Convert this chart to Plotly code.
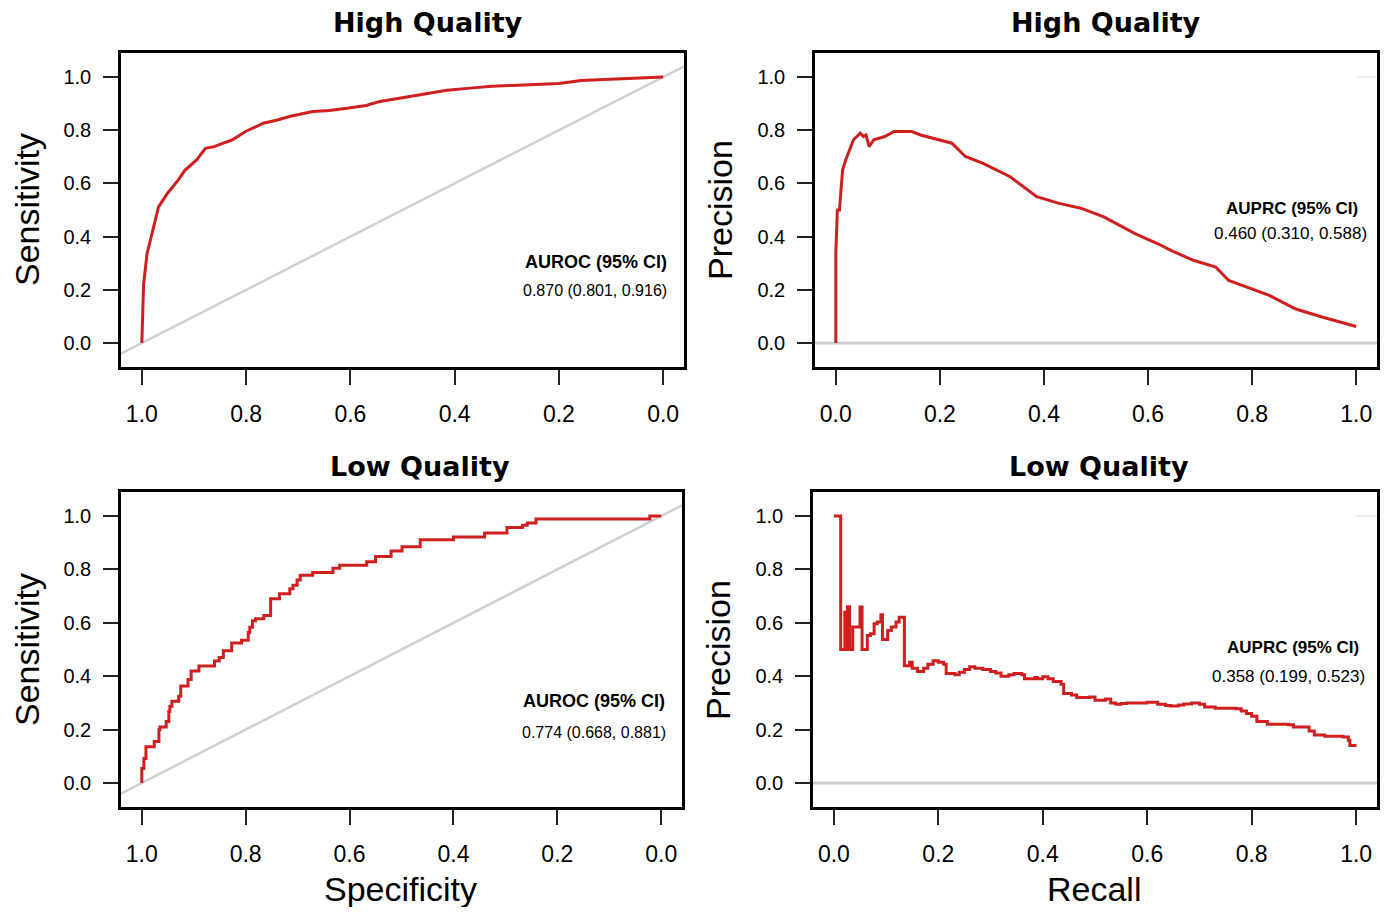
import plotly.graph_objects as go

# ---------------- data ----------------
# High quality ROC (specificity, sensitivity)
spec_hq = [1.0, 0.9966, 0.99, 0.981, 0.968, 0.951, 0.930, 0.917, 0.895, 0.878, 0.861, 0.844,
           0.827, 0.801, 0.767, 0.740, 0.715, 0.672, 0.640, 0.603, 0.570, 0.543, 0.483, 0.440,
           0.415, 0.370, 0.329, 0.290, 0.243, 0.200, 0.157, 0.110, 0.071, 0.0]
sens_hq = [0.0, 0.223, 0.336, 0.411, 0.512, 0.562, 0.613, 0.650, 0.688, 0.732, 0.738, 0.751,
           0.763, 0.795, 0.826, 0.838, 0.852, 0.870, 0.874, 0.883, 0.893, 0.908, 0.927, 0.940,
           0.950, 0.958, 0.965, 0.968, 0.971, 0.975, 0.987, 0.991, 0.996, 1.0]

# High quality PR (recall, precision)
recall_hq = [0.0, 0.0, 0.003, 0.007, 0.009, 0.013, 0.019, 0.026, 0.034, 0.047, 0.053, 0.058,
             0.064, 0.073, 0.094, 0.112, 0.146, 0.163, 0.197, 0.223, 0.249, 0.283, 0.335, 0.386,
             0.429, 0.472, 0.515, 0.575, 0.618, 0.644, 0.687, 0.730, 0.755, 0.807, 0.833, 0.884,
             0.936, 1.0]
precision_hq = [0.0, 0.336, 0.50, 0.50, 0.55, 0.65, 0.688, 0.726, 0.764, 0.789, 0.776, 0.782,
                0.738, 0.764, 0.776, 0.795, 0.795, 0.782, 0.764, 0.751, 0.701, 0.675, 0.625, 0.550,
                0.525, 0.506, 0.474, 0.411, 0.374, 0.348, 0.311, 0.286, 0.235, 0.197, 0.179, 0.128,
                0.097, 0.062]

# Low quality ROC (step curve)
spec_lq = [1.0, 0.996, 0.992, 0.976, 0.967, 0.965, 0.953, 0.948, 0.946, 0.942, 0.929, 0.925,
           0.911, 0.905, 0.890, 0.860, 0.851, 0.843, 0.827, 0.808, 0.795, 0.792, 0.787, 0.781,
           0.765, 0.752, 0.735, 0.715, 0.709, 0.701, 0.695, 0.671, 0.632, 0.619, 0.567, 0.550,
           0.520, 0.499, 0.464, 0.400, 0.340, 0.297, 0.267, 0.258, 0.241, 0.022, 0.0]
sens_lq = [0.0, 0.054, 0.092, 0.136, 0.155, 0.199, 0.21, 0.23, 0.268, 0.287, 0.306, 0.325,
           0.363, 0.388, 0.419, 0.438, 0.457, 0.470, 0.495, 0.524, 0.535, 0.564, 0.583, 0.608,
           0.615, 0.627, 0.690, 0.709, 0.728, 0.741, 0.760, 0.778, 0.788, 0.804, 0.816, 0.829,
           0.848, 0.869, 0.885, 0.911, 0.921, 0.936, 0.957, 0.965, 0.974, 0.989, 1.0]

# Low quality PR (step curve)
recall_lq = [0.0, 0.013, 0.021, 0.024, 0.026, 0.030, 0.033, 0.036, 0.050, 0.054, 0.064, 0.070,
             0.077, 0.083, 0.090, 0.093, 0.103, 0.110, 0.119, 0.125, 0.135, 0.145, 0.150, 0.160,
             0.172, 0.180, 0.190, 0.200, 0.210, 0.215, 0.232, 0.240, 0.250, 0.260, 0.270, 0.285,
             0.300, 0.310, 0.320, 0.335, 0.345, 0.360, 0.365, 0.385, 0.390, 0.400, 0.410, 0.420,
             0.435, 0.440, 0.455, 0.465, 0.490, 0.500, 0.520, 0.530, 0.540, 0.550, 0.560, 0.600,
             0.620, 0.635, 0.645, 0.660, 0.670, 0.685, 0.700, 0.710, 0.730, 0.770, 0.780, 0.790,
             0.800, 0.810, 0.830, 0.870, 0.880, 0.900, 0.910, 0.920, 0.940, 0.975, 0.985, 0.988,
             0.998]
precision_lq = [1.0, 0.5, 0.64, 0.5, 0.66, 0.5, 0.5, 0.584, 0.659, 0.5, 0.552, 0.559,
                0.596, 0.603, 0.630, 0.537, 0.571, 0.584, 0.603, 0.621, 0.439, 0.452, 0.430, 0.418,
                0.430, 0.445, 0.458, 0.452, 0.445, 0.410, 0.405, 0.415, 0.425, 0.435, 0.430, 0.425,
                0.418, 0.412, 0.400, 0.405, 0.410, 0.405, 0.390, 0.395, 0.390, 0.398, 0.390, 0.380,
                0.370, 0.335, 0.330, 0.320, 0.322, 0.310, 0.315, 0.300, 0.295, 0.298, 0.300, 0.302,
                0.295, 0.290, 0.288, 0.292, 0.296, 0.300, 0.295, 0.285, 0.280, 0.278, 0.270, 0.260,
                0.250, 0.230, 0.220, 0.218, 0.210, 0.210, 0.195, 0.180, 0.175, 0.172, 0.160, 0.140,
                0.135]

titles = ["High Quality", "High Quality", "Low Quality", "Low Quality"]
metric_labels = ["AUROC (95% CI)", "AUPRC (95% CI)", "AUROC (95% CI)", "AUPRC (95% CI)"]
metric_values = ["0.870 (0.801, 0.916)", "0.460 (0.310, 0.588)",
                 "0.774 (0.668, 0.881)", "0.358 (0.199, 0.523)"]
tick_vals = [0.0, 0.2, 0.4, 0.6, 0.8, 1.0]
tick_text = ["0.0", "0.2", "0.4", "0.6", "0.8", "1.0"]

# ---------------- figure ----------------
OFF = 8                     # default page margin around the plot div
W, H = 1390 - 2 * OFF, 915 - 2 * OFF
RED = "#d01f1f"
GREY = "#cfcfcf"
fig = go.Figure()

def px_x(p):
    return (p - OFF) / W

def px_y(p):
    return 1 - (p - OFF) / H

# panel boxes in page pixels (left, right, top, bottom)
boxes = [(121, 684, 53, 367), (815, 1377, 53, 367), (121, 682, 492, 807), (813, 1377, 492, 807)]
kinds = ["roc", "pr", "roc", "pr"]
curves = [(spec_hq, sens_hq, "linear"), (recall_hq, precision_hq, "linear"),
          (spec_lq, sens_lq, "vh"), (recall_lq, precision_lq, "hv")]

for i, (box, kind, cur) in enumerate(zip(boxes, kinds, curves)):
    n = "" if i == 0 else str(i + 1)
    xa, ya = "x" + n, "y" + n
    l, r, t, b = box
    xr = [1.04, -0.04] if kind == "roc" else [-0.04, 1.04]
    axis_common = dict(showline=True, linecolor="black", linewidth=2.5, mirror=True,
                       ticks="outside", ticklen=15, tickwidth=2, tickcolor="#222222",
                       showgrid=False, zeroline=False, tickvals=tick_vals, ticktext=tick_text,
                       fixedrange=True)
    fig.update_layout(**{
        "xaxis" + n: dict(domain=[px_x(l), px_x(r)], range=xr, anchor=ya,
                          tickfont=dict(family="Liberation Sans, Arial", size=23, color="black"),
                          ticklabelstandoff=10, **axis_common),
        "yaxis" + n: dict(domain=[px_y(b), px_y(t)], range=[-0.09, 1.09], anchor=xa,
                          tickfont=dict(family="Liberation Sans, Arial", size=20, color="black"),
                          ticklabelstandoff=8, **axis_common),
    })
    if kind == "roc":
        fig.add_trace(go.Scatter(x=[1.2, -0.2], y=[-0.2, 1.2], mode="lines",
                                 line=dict(color=GREY, width=2.5), xaxis=xa, yaxis=ya,
                                 showlegend=False, hoverinfo="skip"))
    else:
        fig.add_trace(go.Scatter(x=[-0.2, 1.2], y=[0, 0], mode="lines",
                                 line=dict(color=GREY, width=3), xaxis=xa, yaxis=ya,
                                 showlegend=False, hoverinfo="skip"))
        fig.add_trace(go.Scatter(x=[1.0, 1.05], y=[1.0, 1.0], mode="lines",
                                 line=dict(color="#ececec", width=2), xaxis=xa, yaxis=ya,
                                 showlegend=False, hoverinfo="skip"))
    xs, ys, shape = cur
    fig.add_trace(go.Scatter(x=xs, y=ys, mode="lines", line=dict(color=RED, width=3, shape=shape),
                             xaxis=xa, yaxis=ya, showlegend=False))

annotations = []
title_pos = [(428, 22), (1106, 22), (420, 466), (1099, 466)]
for txt, (x, y) in zip(titles, title_pos):
    annotations.append(dict(text="<b>%s</b>" % txt, x=px_x(x), y=px_y(y), xref="paper", yref="paper",
                            xanchor="center", yanchor="middle", showarrow=False,
                            font=dict(family="DejaVu Sans", size=27, color="black")))

label_pos = [(596, 262, 595, 290), (1292, 208, 1290, 234), (594, 701, 594, 732), (1293, 647, 1288, 676)]
label_sizes = [(18, 16), (17, 17), (18, 16), (17, 17)]
for lab, val, (x1, y1, x2, y2), (s1, s2) in zip(metric_labels, metric_values, label_pos, label_sizes):
    annotations.append(dict(text="<b>%s</b>" % lab, x=px_x(x1), y=px_y(y1), xref="paper", yref="paper",
                            xanchor="center", yanchor="middle", showarrow=False,
                            font=dict(family="Liberation Sans, Arial", size=s1, color="black")))
    annotations.append(dict(text=val, x=px_x(x2), y=px_y(y2), xref="paper", yref="paper",
                            xanchor="center", yanchor="middle", showarrow=False,
                            font=dict(family="Liberation Sans, Arial", size=s2, color="black")))

axis_titles = [("Sensitivity", 27, 210, -90), ("Precision", 720, 210, -90),
               ("Sensitivity", 27, 650, -90), ("Precision", 718, 650, -90),
               ("Specificity", 400, 889, 0), ("Recall", 1094, 889, 0)]
for txt, x, y, ang in axis_titles:
    annotations.append(dict(text=txt, x=px_x(x), y=px_y(y), xref="paper", yref="paper",
                            xanchor="center", yanchor="middle", showarrow=False, textangle=ang,
                            font=dict(family="Liberation Sans, Arial", size=34, color="black")))

fig.update_layout(width=W, height=H, margin=dict(l=0, r=0, t=0, b=0),
                  paper_bgcolor="white", plot_bgcolor="white", annotations=annotations,
                  showlegend=False)

fig.write_html("out.html")
